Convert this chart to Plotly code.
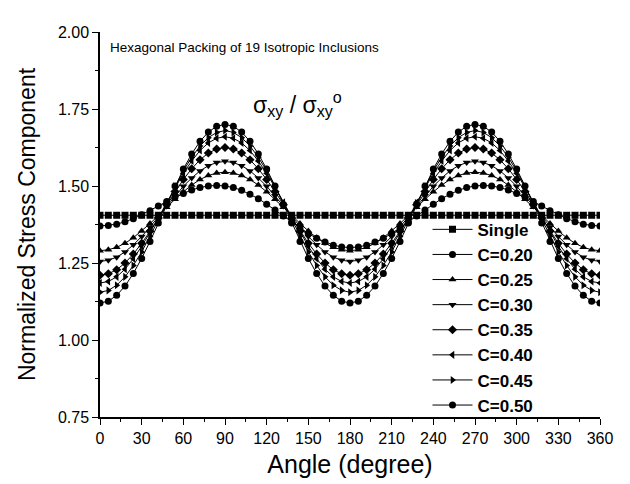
import plotly.graph_objects as go

angles = list(range(0, 361, 6))

single = [1.405] * 61

c020 = [1.370, 1.372, 1.376, 1.384, 1.394, 1.407, 1.420, 1.435, 1.450, 1.464, 1.476,
        1.487, 1.495, 1.500, 1.502, 1.500, 1.495, 1.486, 1.473, 1.459, 1.441, 1.422,
        1.403, 1.383, 1.364, 1.346, 1.330, 1.318, 1.308, 1.302, 1.300, 1.302, 1.308,
        1.318, 1.330, 1.346, 1.364, 1.383, 1.403, 1.422, 1.441, 1.459, 1.473, 1.486,
        1.495, 1.500, 1.502, 1.500, 1.495, 1.487, 1.476, 1.464, 1.450, 1.435, 1.420,
        1.407, 1.394, 1.384, 1.376, 1.372, 1.370]

c025 = [1.290, 1.293, 1.301, 1.314, 1.332, 1.354, 1.378, 1.404, 1.431, 1.457, 1.481,
        1.503, 1.521, 1.534, 1.542, 1.545, 1.542, 1.534, 1.521, 1.503, 1.481, 1.457,
        1.431, 1.404, 1.378, 1.354, 1.332, 1.314, 1.301, 1.293, 1.290, 1.293, 1.301,
        1.314, 1.332, 1.354, 1.378, 1.404, 1.431, 1.457, 1.481, 1.503, 1.521, 1.534,
        1.542, 1.545, 1.542, 1.534, 1.521, 1.503, 1.481, 1.457, 1.431, 1.404, 1.378,
        1.354, 1.332, 1.314, 1.301, 1.293, 1.290]

c030 = [1.255, 1.259, 1.269, 1.286, 1.309, 1.336, 1.367, 1.400, 1.435, 1.468, 1.499,
        1.526, 1.549, 1.566, 1.576, 1.580, 1.576, 1.566, 1.549, 1.526, 1.499, 1.468,
        1.435, 1.400, 1.367, 1.336, 1.309, 1.286, 1.269, 1.259, 1.255, 1.259, 1.269,
        1.286, 1.309, 1.336, 1.367, 1.400, 1.435, 1.468, 1.499, 1.526, 1.549, 1.566,
        1.576, 1.580, 1.576, 1.566, 1.549, 1.526, 1.499, 1.468, 1.435, 1.400, 1.367,
        1.336, 1.309, 1.286, 1.269, 1.259, 1.255]

c035 = [1.210, 1.215, 1.228, 1.250, 1.279, 1.314, 1.353, 1.396, 1.439, 1.482, 1.521,
        1.556, 1.585, 1.607, 1.620, 1.625, 1.620, 1.607, 1.585, 1.556, 1.521, 1.482,
        1.439, 1.396, 1.353, 1.314, 1.279, 1.250, 1.228, 1.215, 1.210, 1.215, 1.228,
        1.250, 1.279, 1.314, 1.353, 1.396, 1.439, 1.482, 1.521, 1.556, 1.585, 1.607,
        1.620, 1.625, 1.620, 1.607, 1.585, 1.556, 1.521, 1.482, 1.439, 1.396, 1.353,
        1.314, 1.279, 1.250, 1.228, 1.215, 1.210]

c040 = [1.185, 1.190, 1.205, 1.230, 1.264, 1.304, 1.349, 1.398, 1.447, 1.496, 1.541,
        1.581, 1.615, 1.640, 1.655, 1.660, 1.655, 1.640, 1.615, 1.581, 1.541, 1.496,
        1.447, 1.398, 1.349, 1.304, 1.264, 1.230, 1.205, 1.190, 1.185, 1.190, 1.205,
        1.230, 1.264, 1.304, 1.349, 1.398, 1.447, 1.496, 1.541, 1.581, 1.615, 1.640,
        1.655, 1.660, 1.655, 1.640, 1.615, 1.581, 1.541, 1.496, 1.447, 1.398, 1.349,
        1.304, 1.264, 1.230, 1.205, 1.190, 1.185]

c045 = [1.155, 1.161, 1.178, 1.205, 1.242, 1.286, 1.337, 1.390, 1.445, 1.499, 1.549,
        1.593, 1.630, 1.657, 1.674, 1.680, 1.674, 1.657, 1.630, 1.593, 1.549, 1.499,
        1.445, 1.390, 1.337, 1.286, 1.242, 1.205, 1.178, 1.161, 1.155, 1.161, 1.178,
        1.205, 1.242, 1.286, 1.337, 1.390, 1.445, 1.499, 1.549, 1.593, 1.630, 1.657,
        1.674, 1.680, 1.674, 1.657, 1.630, 1.593, 1.549, 1.499, 1.445, 1.390, 1.337,
        1.286, 1.242, 1.205, 1.178, 1.161, 1.155]

c050 = [1.120, 1.126, 1.145, 1.175, 1.216, 1.265, 1.320, 1.380, 1.440, 1.500, 1.555,
        1.604, 1.645, 1.675, 1.694, 1.700, 1.694, 1.675, 1.645, 1.604, 1.555, 1.500,
        1.440, 1.380, 1.320, 1.265, 1.216, 1.175, 1.145, 1.126, 1.120, 1.126, 1.145,
        1.175, 1.216, 1.265, 1.320, 1.380, 1.440, 1.500, 1.555, 1.604, 1.645, 1.675,
        1.694, 1.700, 1.694, 1.675, 1.645, 1.604, 1.555, 1.500, 1.440, 1.380, 1.320,
        1.265, 1.216, 1.175, 1.145, 1.126, 1.120]

series_names = ["Single", "C=0.20", "C=0.25", "C=0.30", "C=0.35", "C=0.40", "C=0.45", "C=0.50"]
series_values = [single, c020, c025, c030, c035, c040, c045, c050]
series_symbols = ["square", "circle", "triangle-up", "triangle-down", "diamond",
                  "triangle-left", "triangle-right", "circle"]

x_ticks = list(range(0, 361, 30))
y_ticks = [0.75, 1.00, 1.25, 1.50, 1.75, 2.00]

FONT = "Liberation Sans, Arial, Helvetica, sans-serif"

fig = go.Figure()
for name, vals, sym in zip(series_names, series_values, series_symbols):
    fig.add_trace(go.Scatter(
        x=angles, y=vals, mode="lines+markers", name="<b>" + name + "</b>",
        line=dict(color="black", width=1),
        marker=dict(symbol=sym, size=7, color="black", line=dict(width=0)),
    ))

axis_common = dict(showline=True, linecolor="black", linewidth=1.5, showgrid=False,
                   zeroline=False, tickcolor="black", tickwidth=1.2, automargin=False,
                   tickfont=dict(family=FONT, size=16, color="black"))

fig.update_layout(
    width=622, height=476,
    margin=dict(l=92, r=30, t=24, b=67),
    paper_bgcolor="white", plot_bgcolor="white",
    font=dict(family=FONT, color="black"),
    showlegend=True,
    legend=dict(x=0.655, y=0.533, xanchor="left", yanchor="top",
                bgcolor="rgba(0,0,0,0)", borderwidth=0,
                font=dict(family=FONT, size=17, color="black"),
                tracegroupgap=0, itemwidth=40),
    xaxis=dict(range=[0, 360], tickvals=x_ticks, ticks="outside", ticklen=6,
               minor=dict(dtick=15, ticks="outside", ticklen=3, tickcolor="black"),
               title=dict(text="Angle (degree)", font=dict(family=FONT, size=25), standoff=10),
               **axis_common),
    yaxis=dict(range=[0.75, 2.00], tickvals=y_ticks, tickformat=".2f", ticks="outside", ticklen=6,
               minor=dict(dtick=0.125, ticks="outside", ticklen=3, tickcolor="black"),
               title=dict(text="Normalized Stress Component", font=dict(family=FONT, size=23), standoff=16),
               **axis_common),
    xaxis2=dict(overlaying="x", side="top", range=[0, 360], tickvals=x_ticks, ticks="inside",
                ticklen=3, showticklabels=False, showline=True, linecolor="black", automargin=False,
                linewidth=1.5, showgrid=False, zeroline=False, tickcolor="black"),
    yaxis2=dict(overlaying="y", side="right", range=[0.75, 2.00], tickvals=y_ticks, ticks="inside",
                ticklen=3, showticklabels=False, showline=True, linecolor="black", automargin=False,
                linewidth=1.5, showgrid=False, zeroline=False, tickcolor="black"),
)

fig.add_annotation(text="Hexagonal Packing of 19 Isotropic Inclusions", xref="paper", yref="paper",
                   x=0.016, y=0.985, xanchor="left", yanchor="top", showarrow=False,
                   font=dict(family=FONT, size=13.5, color="black"))
fig.add_annotation(text="σ<sub>xy</sub> / σ<sub>xy</sub><sup>o</sup>", xref="paper", yref="paper",
                   x=0.302, y=0.813, xanchor="left", yanchor="middle", showarrow=False,
                   font=dict(family=FONT, size=23, color="black"))

fig.write_html("out.html")
